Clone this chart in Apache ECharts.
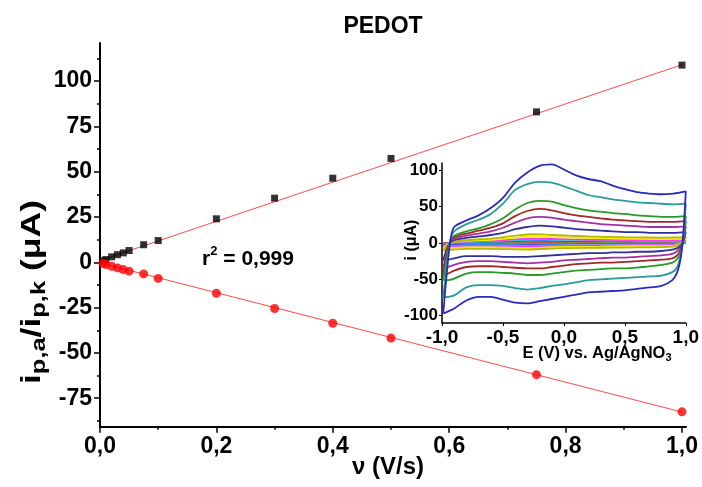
<!DOCTYPE html>
<html>
<head>
<meta charset="utf-8">
<script src="https://cdn.jsdelivr.net/npm/echarts@6/dist/echarts.min.js"></script>
<style>html,body{margin:0;padding:0;background:#fff}#c{width:702px;height:487px}</style>
</head>
<body>
<div id="c"></div>
<script>
// ---------- main plot data ----------
const speeds = [0.005, 0.01, 0.02, 0.03, 0.04, 0.05, 0.075, 0.1, 0.2, 0.3, 0.4, 0.5, 0.75, 1.0];
const ipa = [0.8, 1.5, 3.0, 4.2, 5.2, 6.5, 9.7, 12.0, 24.0, 35.4, 46.4, 57.3, 83.0, 108.8];
const ipk = [-0.5, -1.2, -2.2, -3.1, -4.0, -4.9, -6.4, -8.9, -17.1, -25.5, -33.6, -41.8, -62.0, -82.5];
const fitX = [0, 1.0];
const fitAnodic = [1.0, 109.0];
const fitCathodic = [-0.3, -82.6];

const mainXTicks = [0, 0.2, 0.4, 0.6, 0.8, 1.0];
const mainXMinor = [0.1, 0.3, 0.5, 0.7, 0.9];
const mainYTicks = [-75, -50, -25, 0, 25, 50, 75, 100];
const mainYMinor = [-87.5, -62.5, -37.5, -12.5, 12.5, 37.5, 62.5, 87.5, 112.5];

// ---------- inset (CV) data ----------
const insetXTicks = [-1, -0.5, 0, 0.5, 1];
const insetYTicks = [-100, -50, 0, 50, 100];

const cvAnodicE = [-0.99, -0.96, -0.93, -0.9, -0.8, -0.7, -0.6, -0.5, -0.4, -0.3, -0.2, -0.1, 0.0, 0.1, 0.2, 0.3, 0.4, 0.5, 0.6, 0.7, 0.8, 0.9, 1.0];
const cvCathodicE = [0.98, 0.96, 0.93, 0.89, 0.8, 0.7, 0.6, 0.5, 0.4, 0.3, 0.2, 0.1, 0.0, -0.1, -0.2, -0.3, -0.4, -0.5, -0.6, -0.7, -0.8, -0.9, -0.95, -0.99];

const cv1000a = [-97, -40, 5, 22, 31, 38, 48, 62, 83, 97, 106, 108, 101, 93, 88, 85, 79, 74, 70, 68, 67, 68, 71];
const cv1000c = [14, -19, -40, -51, -59, -61, -63, -65, -66, -67, -68, -71, -74, -77, -80, -83, -82, -78, -74, -74, -79, -90, -94, -97];
const cv750a = [-75, -30, 5, 16, 26, 32, 40, 54, 73, 81, 84, 83, 78, 72, 66, 63, 60, 58, 56, 55, 54, 53, 54];
const cv750c = [10, -15, -33, -40, -45, -46, -47, -48, -49, -50, -51, -54, -57, -59, -62, -64, -62, -59, -58, -58, -61, -72, -74, -75];
const cv500a = [-51, -20, 4, 10, 16, 20, 26, 34, 46, 55, 58, 57, 52, 48, 45, 43, 41, 40, 38, 37, 36, 36, 37];
const cv500c = [5, -12, -22, -27, -30, -32, -34, -35, -35, -36, -37, -38, -40, -42, -44, -44, -42, -41, -40, -40, -42, -49, -51, -51];
const cv400a = [-44, -15, 3, 8, 13, 17, 21, 27, 37, 44, 47, 45, 41, 38, 36, 34, 32, 31, 30, 29, 29, 29, 30];
const cv400c = [4, -8, -17, -21, -23, -24, -25, -26, -27, -27, -28, -29, -31, -33, -35, -35, -34, -33, -32, -32, -33, -38, -42, -44];
const cv300a = [-35, -12, 2, 6, 10, 13, 16, 21, 28, 34, 36, 35, 32, 30, 28, 26, 25, 24, 23, 22, 22, 22, 23];
const cv300c = [3, -5, -11, -15, -17, -18, -19, -20, -20, -21, -22, -23, -24, -26, -27, -28, -27, -26, -25, -25, -26, -30, -33, -35];
const cv200a = [-24, -8, 1, 4, 7, 9, 11, 14, 19, 22, 24, 23, 21, 19, 18, 17, 16, 15, 15, 14, 14, 14, 15];
const cv200c = [2, -3, -7, -9, -11, -12, -12, -13, -13, -14, -14, -15, -16, -17, -18, -19, -19, -19, -18, -18, -18, -21, -23, -24];

const cvSmallAnodicE = [-0.99, -0.93, -0.8, -0.6, -0.4, -0.25, -0.1, 0.2, 0.5, 0.8, 1.0];
const cvSmallCathodicE = [0.97, 0.9, 0.6, 0.3, 0.0, -0.3, -0.6, -0.8, -0.95, -0.99];
const cv100a = [-10, 0, 4, 6, 10, 12, 11, 9, 8, 7.5, 8];
const cv100c = [1, -5, -6, -6.5, -7, -9, -8, -8, -9.5, -10];
const cv075a = [-7.5, 0, 3, 4.5, 7.5, 9, 8, 7, 6, 5.5, 6];
const cv075c = [0.5, -4, -4.5, -5, -5.5, -7, -6, -6, -7, -7.5];
const cv050a = [-5, 0, 2, 3, 5, 6, 5.5, 4.5, 4, 3.8, 4];
const cv050c = [0.3, -2.5, -3, -3.3, -3.6, -4.5, -4, -4, -4.7, -5];
const cv040a = [-4, 0, 1.6, 2.4, 4, 4.8, 4.4, 3.6, 3.2, 3, 3.2];
const cv040c = [0.2, -2, -2.4, -2.6, -2.9, -3.6, -3.2, -3.2, -3.8, -4];
const cv030a = [-3, 0, 1.2, 1.8, 3, 3.6, 3.3, 2.7, 2.4, 2.3, 2.4];
const cv030c = [0.2, -1.5, -1.8, -2, -2.2, -2.7, -2.4, -2.4, -2.8, -3];
const cv020a = [-2, 0, 0.8, 1.2, 2, 2.4, 2.2, 1.8, 1.6, 1.5, 1.6];
const cv020c = [0.1, -1, -1.2, -1.3, -1.4, -1.8, -1.6, -1.6, -1.9, -2];
const cv010a = [-1, 0, 0.4, 0.6, 1, 1.2, 1.1, 0.9, 0.8, 0.75, 0.8];
const cv010c = [0, -0.5, -0.6, -0.65, -0.7, -0.9, -0.8, -0.8, -0.95, -1];
const cv005a = [-0.5, 0, 0.2, 0.3, 0.5, 0.6, 0.55, 0.45, 0.4, 0.38, 0.4];
const cv005c = [0, -0.25, -0.3, -0.33, -0.35, -0.45, -0.4, -0.4, -0.48, -0.5];

// ---------- build ----------
const FONT = "'Liberation Sans', Arial, sans-serif";
function loop(ea, ia, ec, ic) {
  const d = [];
  for (let k = 0; k < ea.length; k++) d.push([ea[k], ia[k]]);
  for (let k = 0; k < ec.length; k++) d.push([ec[k], ic[k]]);
  return d;
}
const cvList = [
  [cvSmallAnodicE, cv005a, cvSmallCathodicE, cv005c, '#333333'],
  [cvSmallAnodicE, cv010a, cvSmallCathodicE, cv010c, '#ff3030'],
  [cvSmallAnodicE, cv020a, cvSmallCathodicE, cv020c, '#30cc30'],
  [cvSmallAnodicE, cv030a, cvSmallCathodicE, cv030c, '#3535ff'],
  [cvSmallAnodicE, cv040a, cvSmallCathodicE, cv040c, '#30dede'],
  [cvSmallAnodicE, cv050a, cvSmallCathodicE, cv050c, '#ff35ff'],
  [cvSmallAnodicE, cv075a, cvSmallCathodicE, cv075c, '#f2f200'],
  [cvSmallAnodicE, cv100a, cvSmallCathodicE, cv100c, '#b8b800'],
  [cvAnodicE, cv200a, cvCathodicE, cv200c, '#303098'],
  [cvAnodicE, cv300a, cvCathodicE, cv300c, '#a232a2'],
  [cvAnodicE, cv400a, cvCathodicE, cv400c, '#a22828'],
  [cvAnodicE, cv500a, cvCathodicE, cv500c, '#289a28'],
  [cvAnodicE, cv750a, cvCathodicE, cv750c, '#2a9c9c'],
  [cvAnodicE, cv1000a, cvCathodicE, cv1000c, '#2a2abc']
];
const cvSeries = cvList.map(c => ({
  type: 'line', xAxisIndex: 2, yAxisIndex: 2,
  data: loop(c[0], c[1], c[2], c[3]),
  showSymbol: false, smooth: 0.3, silent: true,
  lineStyle: { color: c[4], width: 1.8 }, z: 5
}));

const xFmt = v => v.toFixed(1).replace('.', ',');
const tickLbl = { fontFamily: FONT, fontWeight: 'bold', color: '#000' };
function txt(x, y, text, rich, extra) {
  return Object.assign({ type: 'text', x: x, y: y, z: 10,
    style: { text: text, rich: rich, align: 'center', verticalAlign: 'middle', textAlign: 'center', textVerticalAlign: 'middle' } }, extra || {});
}
function tok(size, lh, va) {
  return { fontSize: size, fontWeight: 'bold', fontFamily: FONT, fill: '#000', color: '#000', lineHeight: lh, verticalAlign: va };
}

const option = {
  animation: false,
  backgroundColor: '#fff',
  grid: [
    { left: 100, top: 43, width: 586, height: 383.7 },
    { left: 442, top: 163, width: 245, height: 160, z: 4 }
  ],
  xAxis: [
    { gridIndex: 0, position: 'bottom', type: 'value', min: 0, max: 1.0069, splitLine: { show: false },
      axisLine: { onZero: false, lineStyle: { color: '#000', width: 2 } },
      axisTick: { customValues: mainXTicks, length: 6, inside: false, lineStyle: { width: 1.5, color: '#000' } },
      axisLabel: { customValues: mainXTicks, formatter: xFmt, fontSize: 23, margin: 8, ...tickLbl } },
    { gridIndex: 0, position: 'bottom', type: 'value', min: 0, max: 1.0069, splitLine: { show: false },
      axisLine: { show: false, onZero: false },
      axisTick: { customValues: mainXMinor, length: 3, lineStyle: { width: 1.5, color: '#000' } },
      axisLabel: { show: false } },
    { gridIndex: 1, position: 'bottom', type: 'value', min: -1, max: 1, splitLine: { show: false },
      axisLine: { onZero: false, lineStyle: { color: '#000', width: 1.5 } },
      axisTick: { customValues: insetXTicks, length: 3, lineStyle: { color: '#000' } },
      axisLabel: { customValues: insetXTicks, formatter: xFmt, fontSize: 19, margin: 5, ...tickLbl } }
  ],
  yAxis: [
    { gridIndex: 0, position: 'left', type: 'value', min: -90.7, max: 121, splitLine: { show: false },
      axisLine: { show: true, onZero: false, lineStyle: { color: '#000', width: 2 } },
      axisTick: { show: true, customValues: mainYTicks, length: 6, lineStyle: { width: 1.5, color: '#000' } },
      axisLabel: { customValues: mainYTicks, fontSize: 23, margin: 8, ...tickLbl } },
    { gridIndex: 0, position: 'left', type: 'value', min: -90.7, max: 121, splitLine: { show: false },
      axisLine: { show: false, onZero: false },
      axisTick: { show: true, customValues: mainYMinor, length: 3, lineStyle: { width: 1.5, color: '#000' } },
      axisLabel: { show: false } },
    { gridIndex: 1, position: 'left', type: 'value', min: -110, max: 110, splitLine: { show: false },
      axisLine: { show: true, onZero: false, lineStyle: { color: '#000', width: 1.5 } },
      axisTick: { show: true, customValues: insetYTicks, length: 3, lineStyle: { color: '#000' } },
      axisLabel: { customValues: insetYTicks, fontSize: 17, margin: 4, ...tickLbl } }
  ],
  series: [
    { type: 'line', xAxisIndex: 0, yAxisIndex: 0, data: fitX.map((x, k) => [x, fitAnodic[k]]),
      showSymbol: false, lineStyle: { color: '#ff4a4a', width: 1 }, z: 2, silent: true },
    { type: 'line', xAxisIndex: 0, yAxisIndex: 0, data: fitX.map((x, k) => [x, fitCathodic[k]]),
      showSymbol: false, lineStyle: { color: '#ff4a4a', width: 1 }, z: 2, silent: true },
    { type: 'scatter', xAxisIndex: 0, yAxisIndex: 0, data: speeds.map((x, k) => [x, ipa[k]]),
      symbol: 'rect', symbolSize: 7, itemStyle: { color: '#000' }, z: 3 },
    { type: 'scatter', xAxisIndex: 0, yAxisIndex: 0, data: speeds.map((x, k) => [x, ipk[k]]),
      symbol: 'circle', symbolSize: 9, itemStyle: { color: '#ff0000' }, z: 3 },
    ...cvSeries
  ],
  graphic: [
    txt(383, 27, '{m|PEDOT}', { m: tok(23, 28, 'middle') }),
    txt(388, 467, '{m|ν (V/s)}', { m: tok(24, 28, 'middle') }),
    txt(248, 259, '{m|r}{p|2}{m| = 0,999}', { m: tok(21, 28, 'middle'), p: tok(13, 14, 'top') }),
    txt(32, 292, '{m|i}{s|p,a}{m|/i}{s|p,k}{m| (μA)}', { m: tok(28, 34, 'middle'), s: tok(20, 18, 'bottom') },
        { rotation: Math.PI / 2, scaleX: 1.27 }),
    txt(412, 240, '{m|i (μA)}', { m: tok(16, 20, 'middle') }, { rotation: Math.PI / 2 }),
    txt(597, 353, '{m|E (V) vs. Ag/AgNO}{s|3}', { m: tok(16.5, 20, 'middle'), s: tok(11, 11, 'bottom') })
  ]
};
const chart = echarts.init(document.getElementById('c'), null, { renderer: 'canvas' });
chart.setOption(option);
</script>
</body>
</html>
